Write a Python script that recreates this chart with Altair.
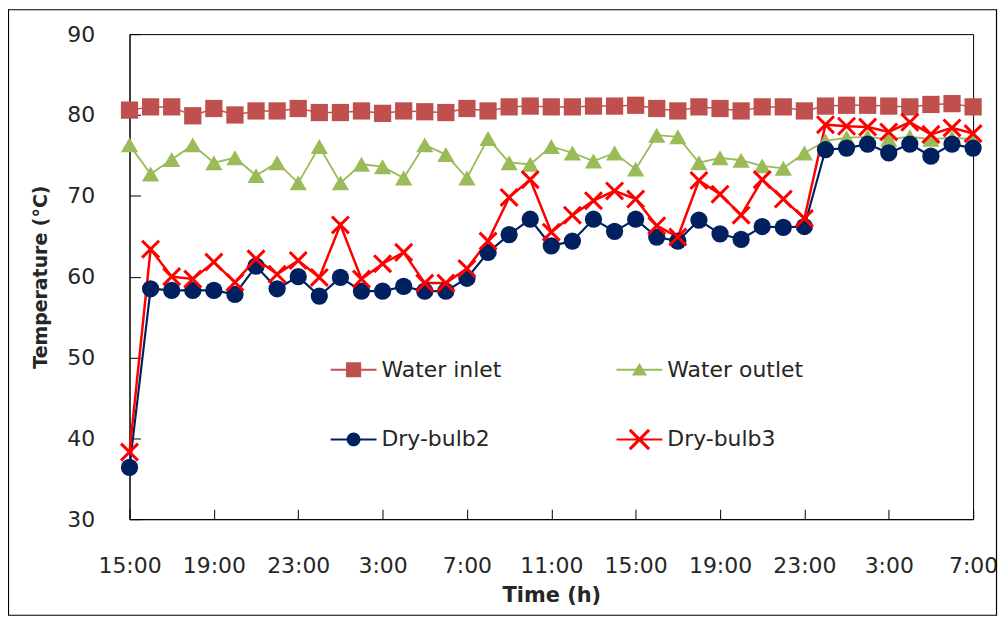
import json
import altair as alt
import pandas as pd

# ---------------- data ----------------
hours = list(range(41))  # hourly readings, 15:00 day 1 -> 7:00 day 3
tick_hours = [0, 4, 8, 12, 16, 20, 24, 28, 32, 36, 40]
tick_labels = ["15:00", "19:00", "23:00", "3:00", "7:00", "11:00",
               "15:00", "19:00", "23:00", "3:00", "7:00"]
y_ticks = [30, 40, 50, 60, 70, 80, 90]

series = ["Water inlet", "Water outlet", "Dry-bulb2", "Dry-bulb3"]

water_inlet = [80.6, 81.0, 81.0, 79.9, 80.8, 80.0, 80.5, 80.5, 80.8, 80.3,
               80.3, 80.5, 80.2, 80.5, 80.4, 80.3, 80.8, 80.5, 81.0, 81.1,
               81.0, 81.0, 81.1, 81.1, 81.2, 80.8, 80.5, 81.0, 80.8, 80.5,
               81.0, 81.0, 80.5, 81.1, 81.2, 81.2, 81.1, 81.0, 81.3, 81.4,
               81.0]
water_outlet = [76.3, 72.7, 74.5, 76.3, 74.1, 74.7, 72.5, 74.1, 71.6, 76.1,
                71.6, 73.9, 73.6, 72.2, 76.3, 75.1, 72.2, 77.1, 74.1, 73.9,
                76.1, 75.3, 74.3, 75.3, 73.3, 77.5, 77.3, 74.1, 74.7, 74.4,
                73.7, 73.4, 75.3, 76.8, 77.2, 77.3, 77.0, 77.3, 77.0, 77.2,
                77.0]
dry_bulb2 = [36.4, 58.5, 58.3, 58.3, 58.3, 57.8, 61.3, 58.5, 60.0, 57.6,
             59.9, 58.2, 58.2, 58.8, 58.2, 58.2, 59.8, 63.0, 65.2, 67.1,
             63.8, 64.4, 67.1, 65.6, 67.1, 64.9, 64.4, 67.0, 65.3, 64.6,
             66.2, 66.1, 66.2, 75.7, 75.9, 76.4, 75.3, 76.4, 74.9, 76.4,
             75.9]
dry_bulb3 = [38.3, 63.4, 60.0, 59.7, 61.8, 59.3, 62.2, 60.3, 62.0, 59.9,
             66.4, 59.7, 61.6, 63.0, 59.2, 59.2, 61.0, 64.4, 69.8, 72.0,
             65.5, 67.6, 69.4, 70.6, 69.6, 66.3, 64.9, 71.9, 70.2, 67.6,
             72.0, 69.6, 67.2, 78.8, 78.6, 78.5, 77.9, 79.1, 77.6, 78.4,
             77.7]

rows = []
for name, vals in zip(series, [water_inlet, water_outlet, dry_bulb2, dry_bulb3]):
    for h, v in zip(hours, vals):
        rows.append({"hour": h, "series": name, "temp": v})
df = pd.DataFrame(rows)

# ---------------- styling ----------------
FONT = "DejaVu Sans"
TXT = "#262626"
colors = ["#c0504d", "#9bbb59", "#002060", "#ff0000"]
line_widths = [1.5, 2.5, 2.0, 2.0]


def poly(pts):
    return "M" + "L".join(f"{x:.3f},{y:.3f}" for x, y in pts) + "Z"


t = 0.045  # half thickness of legend line (unit = half symbol width)
bar = poly([(-1, -t), (1, -t), (1, t), (-1, t)])
sq = 0.33
a, o = 0.42, 0.046
legend_paths = [
    bar + " " + poly([(-sq, -sq), (sq, -sq), (sq, sq), (-sq, sq)]),
    bar + " " + poly([(0, -0.3), (0.33, 0.25), (-0.33, 0.25)]),
    bar + " M-0.3,0A0.3,0.3,0,1,1,0.3,0A0.3,0.3,0,1,1,-0.3,0Z",
    bar + " " + poly([(-a + o, -a - o), (a + o, a - o), (a - o, a + o), (-a - o, -a + o)])
    + " " + poly([(-a - o, a - o), (a - o, -a - o), (a + o, -a + o), (-a + o, a + o)]),
]

xs = alt.Scale(domain=[0, 40], nice=False, zero=False)
ys = alt.Scale(domain=[30, 90], nice=False, zero=False)

label_expr = f"{json.dumps(tick_labels)}[round(datum.value / 4)]"

x_main = alt.X(
    "hour:Q", scale=xs,
    axis=alt.Axis(values=tick_hours, labelExpr=label_expr, ticks=False, grid=False,
                  domainColor="#000", labelFont=FONT, labelFontSize=22, labelColor=TXT,
                  labelPadding=37, labelAngle=0, labelOverlap=False, labelFlush=False,
                  title="Time (h)", titleFont=FONT, titleFontSize=21, titleFontWeight="bold",
                  titleColor=TXT, titlePadding=8),
)
y_main = alt.Y(
    "temp:Q", scale=ys,
    axis=alt.Axis(values=y_ticks, ticks=False, grid=False, domainColor="#000",
                  labelFont=FONT, labelFontSize=22, labelColor=TXT, labelPadding=35,
                  title="Temperature (°C)", titleFont=FONT, titleFontSize=19,
                  titleFontWeight="bold", titleColor=TXT, titlePadding=16),
)

# inward tick marks: a second axis pulled inside the frame
x_ticks_in = alt.X(
    "hour:Q", scale=xs,
    axis=alt.Axis(orient="bottom", values=tick_hours, offset=-10, tickSize=10,
                  tickColor="#000", labels=False, domain=False, grid=False, title=None),
)
y_ticks_in = alt.Y(
    "temp:Q", scale=ys,
    axis=alt.Axis(orient="left", values=y_ticks, offset=-11, tickSize=11,
                  tickColor="#000", labels=False, domain=False, grid=False, title=None),
)

color_scale = alt.Scale(domain=series, range=colors)

border = alt.Chart(alt.Data(values=[{"k": 0}])).mark_rect(
    filled=False, stroke="#000", strokeWidth=1.2
).encode(x=alt.value(-121.5), x2=alt.value(870.5), y=alt.value(-24.5), y2=alt.value(583.5))

lines = alt.Chart(df).mark_line().encode(
    x=x_main, y=y_main,
    color=alt.Color("series:N", scale=color_scale, legend=None),
    strokeWidth=alt.StrokeWidth("series:N", scale=alt.Scale(domain=series, range=line_widths), legend=None),
)

markers = alt.Chart(df).transform_filter(
    alt.datum.series != series[3]
).mark_point(filled=True, size=300, opacity=1).encode(
    x=x_ticks_in, y=y_ticks_in,
    color=alt.Color("series:N", scale=color_scale, legend=None),
    shape=alt.Shape("series:N", scale=alt.Scale(domain=series[:3], range=["square", "triangle-up", "circle"]), legend=None),
)

crosses = alt.Chart(df).transform_filter(
    alt.datum.series == series[3]
).mark_point(shape="M-1,-1L1,1M-1,1L1,-1", size=289, strokeWidth=3, filled=False,
             color=colors[3], opacity=1).encode(
    x=alt.X("hour:Q", scale=xs, axis=None),
    y=alt.Y("temp:Q", scale=ys, axis=None),
)

leg = alt.Legend(title=None, orient="none", legendX=202, legendY=314, columns=2,
                 direction="horizontal",
                 columnPadding=115, rowPadding=36, symbolSize=2116, symbolStrokeWidth=0,
                 symbolOpacity=1, labelFont=FONT, labelFontSize=22, labelColor=TXT,
                 labelOffset=5, padding=0, labelLimit=400)

legend_layer = alt.Chart(df).mark_point(filled=True, opacity=0).encode(
    color=alt.Color("series:N", scale=color_scale, legend=leg),
    shape=alt.Shape("series:N", scale=alt.Scale(domain=series, range=legend_paths), legend=leg),
)

chart = alt.layer(border, lines, markers, crosses, legend_layer).resolve_scale(
    color="independent", shape="independent", strokeWidth="independent"
).resolve_axis(
    x="independent", y="independent"
).properties(
    width=847, height=487,
    padding={"left": 122, "top": 25, "right": 25, "bottom": 97},
    autosize=alt.AutoSizeParams(type="none"),
    background="white",
).configure_view(stroke="#000", strokeWidth=1)

chart.save("out.html", embed_options={"renderer": "svg", "actions": False})
